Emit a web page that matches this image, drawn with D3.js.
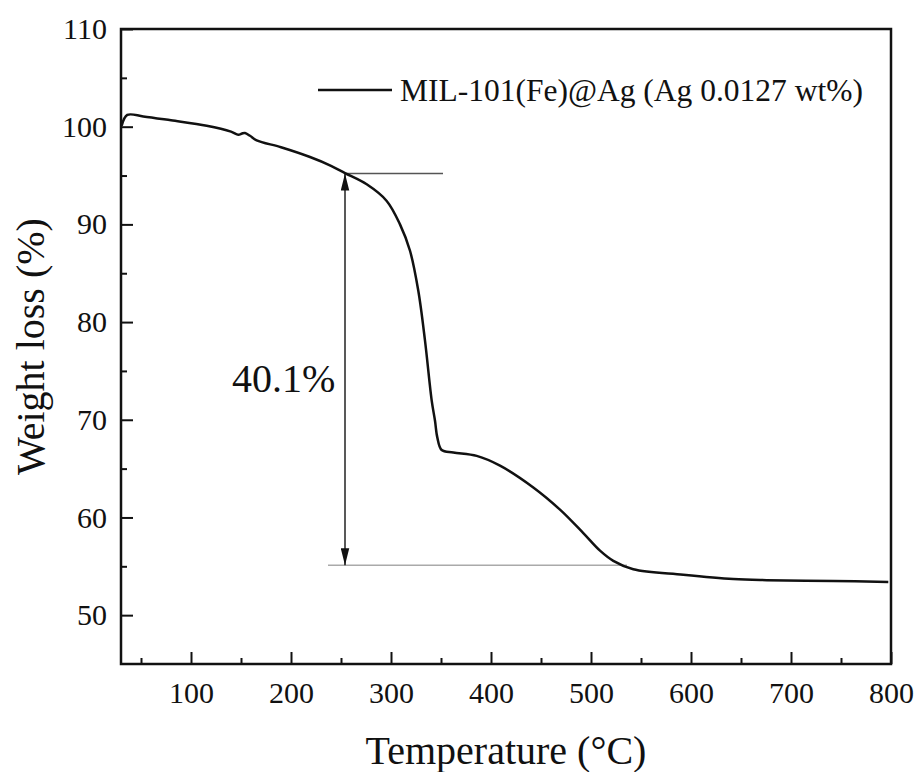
<!DOCTYPE html>
<html>
<head>
<meta charset="utf-8">
<script src="https://cdn.jsdelivr.net/npm/d3@7/dist/d3.min.js"></script>
<style>
  html, body { margin: 0; padding: 0; background: #fff; }
  svg { display: block; }
  svg text { font-family: "Liberation Serif", "Times New Roman", serif !important; fill: #111; }
</style>
</head>
<body>
<svg id="chart" width="915" height="772"></svg>
<script>
// TGA curve of MIL-101(Fe)@Ag
const temperature = [30.7, 36.3, 52.3, 80, 115.7, 140, 147.3, 151, 154, 159, 165.7, 190, 219, 240, 254,
  275.7, 295.7, 309, 319, 327.3, 334, 340.7, 344, 346.3, 350.7, 362.3, 385.7, 409, 442.3, 469,
  492.3, 509, 522.3, 542.3, 592.3, 642.3, 675.7, 742.3, 797.3];
const weight = [100.1, 101.2, 101.05, 100.65, 100.1, 99.5, 99.18, 99.3, 99.35, 99.07, 98.6, 97.9, 96.9, 96.0, 95.25,
  94.1, 92.4, 90.0, 87.3, 83.2, 78.1, 71.96, 69.9, 68.2, 66.9, 66.65, 66.3, 65.3, 63.07, 60.8,
  58.4, 56.6, 55.56, 54.7, 54.13, 53.69, 53.58, 53.5, 53.4];

const seriesLabel = "MIL-101(Fe)@Ag (Ag 0.0127 wt%)";
const xTicks = [100, 200, 300, 400, 500, 600, 700, 800];
const xMinorTicks = [50, 150, 250, 350, 450, 550, 650, 750];
const yTicks = [50, 60, 70, 80, 90, 100, 110];
const yMinorTicks = [55, 65, 75, 85, 95, 105];

// weight-loss annotation: onset level, stated loss, temperature ranges of guide lines
const onsetWeight = 95.2;
const lossPercent = 40.1;
const arrowTemp = 254;
const topGuide = [254, 352];
const bottomGuide = [237, 536];

const serif = '"Liberation Serif", "Times New Roman", serif';
const svg = d3.select("#chart");
const m = { left: 121, right: 891, top: 29, bottom: 664 };

const x = d3.scaleLinear().domain([30, 800]).range([m.left, m.right]);
const y = d3.scaleLinear().domain([45, 110]).range([m.bottom, m.top]);

// axes with inward ticks
svg.append("g").attr("transform", `translate(0,${m.bottom})`)
  .call(d3.axisBottom(x).tickValues(xTicks).tickSizeInner(-12).tickSizeOuter(0).tickPadding(18).tickFormat(d3.format("d")));
svg.append("g").attr("transform", `translate(0,${m.bottom})`)
  .call(d3.axisBottom(x).tickValues(xMinorTicks).tickSizeInner(-6).tickSizeOuter(0).tickFormat(""));
svg.append("g").attr("transform", `translate(${m.left},0)`)
  .call(d3.axisLeft(y).tickValues(yTicks).tickSizeInner(-12).tickSizeOuter(0).tickPadding(14).tickFormat(d3.format("d")));
svg.append("g").attr("transform", `translate(${m.left},0)`)
  .call(d3.axisLeft(y).tickValues(yMinorTicks).tickSizeInner(-6).tickSizeOuter(0).tickFormat(""));

svg.selectAll(".domain").remove();
svg.selectAll("g").attr("font-family", null);
svg.selectAll(".tick line").attr("stroke", "#111").attr("stroke-width", 2);
svg.selectAll(".tick text").style("font-size", "30px").style("font-family", serif).attr("fill", "#111");

// frame
svg.append("rect")
  .attr("x", m.left).attr("y", m.top)
  .attr("width", m.right - m.left).attr("height", m.bottom - m.top)
  .attr("fill", "none").attr("stroke", "#111").attr("stroke-width", 2.5);

// guide lines
svg.append("line")
  .attr("x1", x(topGuide[0])).attr("x2", x(topGuide[1]))
  .attr("y1", y(onsetWeight)).attr("y2", y(onsetWeight))
  .attr("stroke", "#555").attr("stroke-width", 1.5);
svg.append("line")
  .attr("x1", x(bottomGuide[0])).attr("x2", x(bottomGuide[1]))
  .attr("y1", y(onsetWeight - lossPercent)).attr("y2", y(onsetWeight - lossPercent))
  .attr("stroke", "#aaa").attr("stroke-width", 1.5);

// double-headed arrow
svg.append("defs").append("marker").attr("id", "head")
  .attr("viewBox", "0 0 20 10").attr("refX", 20).attr("refY", 5)
  .attr("markerWidth", 17).attr("markerHeight", 9).attr("markerUnits", "userSpaceOnUse")
  .attr("orient", "auto-start-reverse")
  .append("path").attr("d", "M0,0 L20,5 L0,10 Z").attr("fill", "#111");

svg.append("line")
  .attr("x1", x(arrowTemp)).attr("x2", x(arrowTemp))
  .attr("y1", y(onsetWeight)).attr("y2", y(onsetWeight - lossPercent))
  .attr("stroke", "#222").attr("stroke-width", 1.5)
  .attr("marker-start", "url(#head)").attr("marker-end", "url(#head)");

svg.append("text")
  .attr("x", 232).attr("y", 392)
  .style("font-size", "40px").style("font-family", serif)
  .text(lossPercent.toFixed(1) + "%");

// curve
const line = d3.line()
  .x((d, i) => x(temperature[i]))
  .y(d => y(d))
  .curve(d3.curveCatmullRom.alpha(0.5));
svg.append("path")
  .datum(weight)
  .attr("d", line)
  .attr("fill", "none").attr("stroke", "#111").attr("stroke-width", 2.5)
  .attr("stroke-linejoin", "round");

// legend
svg.append("line").attr("x1", 318).attr("x2", 392).attr("y1", 90).attr("y2", 90)
  .attr("stroke", "#111").attr("stroke-width", 2.5);
svg.append("text").attr("x", 400).attr("y", 101)
  .style("font-size", "31.5px").style("font-family", serif)
  .text(seriesLabel);

// axis titles
svg.append("text")
  .attr("x", (m.left + m.right) / 2).attr("y", 764)
  .attr("text-anchor", "middle")
  .style("font-size", "40px").style("font-family", serif)
  .text("Temperature (°C)");
svg.append("text")
  .attr("transform", `translate(44,${(m.top + m.bottom) / 2}) rotate(-90)`)
  .attr("text-anchor", "middle")
  .style("font-size", "40px").style("font-family", serif)
  .text("Weight loss (%)");
</script>
</body>
</html>
